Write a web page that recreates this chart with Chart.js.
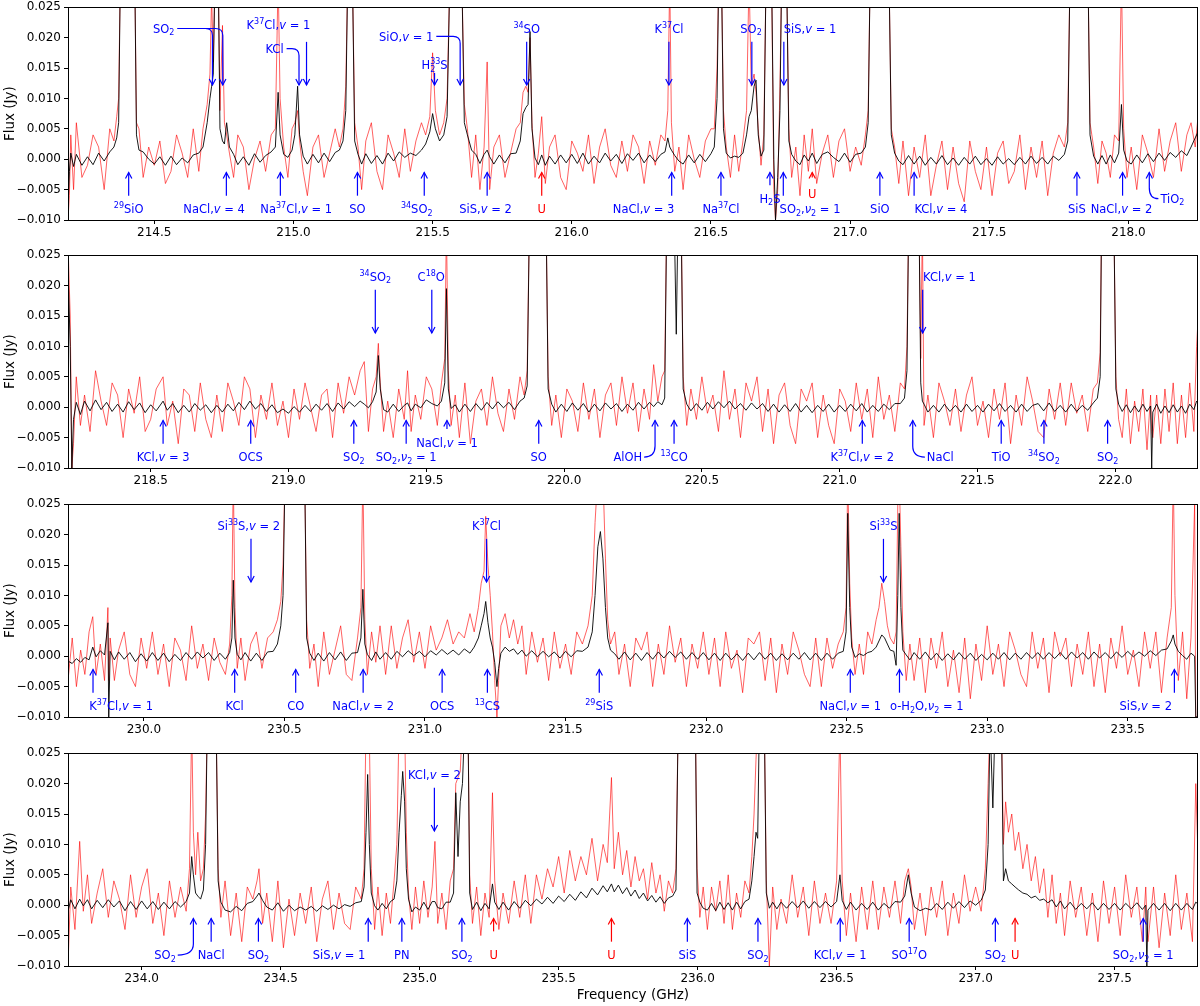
<!DOCTYPE html>
<html>
<head>
<meta charset="utf-8">
<script src="https://cdn.jsdelivr.net/npm/chart.js@4.4.0/dist/chart.umd.min.js"></script>
<style>
html, body { margin: 0; padding: 0; background: #fff; overflow: hidden; }
body { width: 1200px; height: 1006px; position: relative; }
canvas { position: absolute; left: 0; }
</style>
</head>
<body>
<canvas id="panel1" width="1200" height="248" style="top:-3px"></canvas>
<canvas id="panel2" width="1200" height="248" style="top:245px"></canvas>
<canvas id="panel3" width="1200" height="248" style="top:494px"></canvas>
<canvas id="panel4" width="1200" height="263" style="top:743px"></canvas>
<script>
// ---- data (flux in mJy, frequency in GHz) ----

const yTicks = [-10, -5, 0, 5, 10, 15, 20, 25];

// panel 1 : 214.2 - 218.25 GHz
const p1Ticks = [214.5, 215.0, 215.5, 216.0, 216.5, 217.0, 217.5, 218.0];
const p1Freq = [
    214.190, 214.195, 214.200, 214.210, 214.220, 214.240, 214.260, 214.280, 214.300, 214.320,
    214.340, 214.355, 214.365, 214.372, 214.378, 214.430, 214.436, 214.445, 214.460, 214.480,
    214.500, 214.520, 214.540, 214.560, 214.580, 214.600, 214.620, 214.640, 214.660, 214.675,
    214.690, 214.700, 214.706, 214.712, 214.718, 214.730, 214.736, 214.745, 214.752, 214.760,
    214.770, 214.785, 214.800, 214.820, 214.840, 214.860, 214.880, 214.900, 214.920, 214.935,
    214.945, 214.952, 214.965, 214.980, 214.995, 215.005, 215.015, 215.022, 215.035, 215.050,
    215.070, 215.090, 215.110, 215.130, 215.150, 215.165, 215.178, 215.188, 215.195, 215.212,
    215.220, 215.232, 215.245, 215.260, 215.280, 215.300, 215.320, 215.340, 215.360, 215.380,
    215.400, 215.420, 215.440, 215.460, 215.475, 215.490, 215.500, 215.510, 215.525, 215.540,
    215.552, 215.562, 215.605, 215.614, 215.625, 215.640, 215.655, 215.670, 215.685, 215.696,
    215.705, 215.720, 215.740, 215.760, 215.780, 215.800, 215.815, 215.825, 215.835, 215.843,
    215.850, 215.857, 215.868, 215.880, 215.892, 215.905, 215.920, 215.940, 215.960, 215.980,
    216.000, 216.020, 216.040, 216.060, 216.080, 216.100, 216.120, 216.140, 216.160, 216.180,
    216.200, 216.220, 216.240, 216.260, 216.280, 216.300, 216.320, 216.335, 216.345, 216.352,
    216.358, 216.370, 216.385, 216.400, 216.420, 216.440, 216.460, 216.480, 216.500, 216.512,
    216.522, 216.528, 216.538, 216.545, 216.555, 216.570, 216.585, 216.600, 216.615, 216.628,
    216.637, 216.645, 216.655, 216.662, 216.670, 216.680, 216.690, 216.698, 216.718, 216.726,
    216.732, 216.740, 216.748, 216.754, 216.772, 216.780, 216.790, 216.805, 216.820, 216.835,
    216.850, 216.864, 216.880, 216.900, 216.920, 216.940, 216.960, 216.980, 217.000, 217.020,
    217.040, 217.055, 217.065, 217.072, 217.140, 217.148, 217.160, 217.175, 217.190, 217.210,
    217.230, 217.250, 217.270, 217.290, 217.310, 217.330, 217.350, 217.370, 217.390, 217.410,
    217.430, 217.450, 217.470, 217.490, 217.510, 217.530, 217.550, 217.570, 217.590, 217.610,
    217.630, 217.650, 217.670, 217.690, 217.710, 217.730, 217.750, 217.770, 217.782, 217.790,
    217.855, 217.862, 217.875, 217.890, 217.905, 217.920, 217.935, 217.950, 217.965, 217.975,
    217.983, 217.995, 218.010, 218.030, 218.050, 218.070, 218.090, 218.110, 218.130, 218.150,
    218.170, 218.190, 218.210, 218.225, 218.240, 218.250
];
const p1Black = [
    -8, -2, 1, -1.2, 0.8, -1.0, 0.4, -0.9, 1.0, -0.3,
    1.2, 2.0, 3.5, 6, 30, 30, 4, 1.5, 1.2, 0.0,
    -0.8, 0.4, -1.0, 0.5, -0.9, 0.2, -0.6, 0.7, 1.0, 2,
    6, 10, 12, 14, 30, 30, 5, 3, 2.5, 6,
    2, 0.8, -0.9, 0.4, -1.0, 0.9, -0.5, 0.6, 1.2, 2,
    11, 4, 0.8, 0.3, 1.5, 4, 12, 4, 0.5, -0.8,
    0.8, -0.6, 1.0, -0.4, 1.1, 1.5, 3, 8, 30, 30,
    3, 0.8, -0.8, 0.9, -0.7, 0.6, -0.8, 1.0, -0.3, 1.2,
    0.3, 1.0, 0.6, 1.5, 2.5, 4.5, 7.5, 5, 3, 4,
    7, 30, 30, 6, 4, 1.5, 0.8, -0.7, 0.8, 1.5,
    0.4, -0.8, 0.7, -0.6, 0.9, 1.0, 3, 7.5, 8.5, 9,
    21, 5, 0.2, -0.9, 0.7, -1.0, 0.5, -0.8, 0.7, -0.6,
    0.8, -0.7, 1.0, -0.8, 0.5, -0.6, 1.0, -0.3, 0.8, -0.7,
    0.9, -0.2, 1.0, -0.6, 0.7, -0.4, 0.8, 1.2, 3.5, 2,
    1.5, 0.6, -0.3, -0.8, 0.7, -0.6, 0.8, -0.4, 0.9, 2,
    10, 30, 30, 5, 1, 0.2, 0.5, 0.3, 1.0, 4,
    7, 8, 12, 13, 4, 0.5, 1.5, 30, 30, 0,
    -10, -3, 8, 30, 30, 3, 0.8, -0.3, -0.9, 0.7,
    -0.3, 1.0, -0.7, 0.8, 1.2, 0.3, -0.4, 1.0, -0.5, 0.8,
    1.0, 2, 6, 30, 30, 4, 1, -0.3, -0.9, 0.6,
    -0.8, 0.5, -1.0, 0.3, -0.8, 0.6, -0.9, 0.2, -1.0, 0.3,
    -0.8, 0.5, -0.9, 0.1, -1.0, 0.4, -0.8, 0.1, -0.9, 0.3,
    -0.8, 0.5, -0.7, 0.3, -0.8, 0.5, -0.2, 0.8, 3, 30,
    30, 4, 0.5, -0.8, 0.6, -0.8, 0.7, -0.6, 1.0, 9,
    1.5, -0.3, -0.8, 0.7, -0.6, 0.9, -0.4, 1.0, -0.2, 1.1,
    0.3, 1.4, 0.6, 2.0, 3.5, 4.5
];
const p1Red = [
    -10, -6, 4, -5, 6, -3, -1, 4, 2, -5,
    5, 3, 7, 10, 30, 30, 6, 5, -3, 2,
    -1, 3, -4, -2, 4, 1, -3, 5, -2, 5,
    9, 14, 27, 16, 30, 30, 8, 22, 6, 4,
    1, -3, 4, 2, -5, 0, 3, -2, 4, 5,
    30, 10, 2, -3, 5, 6, 8, 3, -2, -6,
    2, 4, -3, 1, 5, 2, 5, 12, 30, 30,
    6, 2, -5, 3, 6, -2, -5, 4, 1, -3,
    5, -2, 3, 6, 4, 7, 17.5, 8, 4, 6,
    10, 30, 30, 9, 5, -3, 4, -5, 2, 16,
    -5, 2, 4, -3, 1, 5, 6, 11, 12, 11,
    20, 6, -3, 1, 7, -4, 2, 4, -3, -5,
    3, 1, -2, 4, -4, 2, 5, -1, -3, 3,
    -2, 4, 2, -4, 3, -1, 4, 3, 8, 30,
    6, -2, 2, -5, 4, 0, -3, 3, 5, 5,
    15, 30, 30, 8, 2, -3, 4, -2, 3, 8,
    30, 12, 14, 11, 5, -1, 4, 30, 30, -5,
    -10, -5, 12, 30, 30, 5, -3, 2, -6, 4,
    -2, 5, -4, 1, 4, -3, 3, 5, -2, 2,
    -1, 4, 8, 30, 30, 5, 2, -4, 3, -6,
    2, -3, 4, -6, -1, 3, -5, 2, -4, -7,
    3, -2, -5, 2, -6, 1, 3, -4, -2, 4,
    -5, 2, -3, 3, -6, 1, 4, 2, 6, 30,
    30, 6, 2, -4, 3, 1, -3, 4, 3, 30,
    5, -3, 2, -5, 4, 1, -3, 5, -2, 3,
    6, -2, 4, 6, 2, 7
];

// panel 2 : 218.2 - 222.3 GHz
const p2Ticks = [218.5, 219.0, 219.5, 220.0, 220.5, 221.0, 221.5, 222.0];
const p2Freq = [
    218.200, 218.208, 218.214, 218.220, 218.230, 218.245, 218.260, 218.280, 218.300, 218.320,
    218.340, 218.360, 218.380, 218.400, 218.420, 218.440, 218.460, 218.480, 218.500, 218.520,
    218.545, 218.560, 218.580, 218.600, 218.620, 218.640, 218.660, 218.680, 218.700, 218.720,
    218.740, 218.760, 218.780, 218.800, 218.820, 218.840, 218.860, 218.880, 218.900, 218.920,
    218.940, 218.960, 218.980, 219.000, 219.020, 219.040, 219.060, 219.080, 219.100, 219.120,
    219.140, 219.160, 219.180, 219.200, 219.220, 219.240, 219.260, 219.275, 219.290, 219.305,
    219.318, 219.326, 219.333, 219.345, 219.360, 219.380, 219.400, 219.420, 219.432, 219.445,
    219.460, 219.480, 219.500, 219.520, 219.540, 219.555, 219.567, 219.573, 219.580, 219.590,
    219.605, 219.620, 219.640, 219.660, 219.680, 219.700, 219.720, 219.740, 219.760, 219.780,
    219.800, 219.820, 219.840, 219.855, 219.866, 219.874, 219.935, 219.942, 219.955, 219.970,
    219.990, 220.010, 220.030, 220.050, 220.070, 220.090, 220.110, 220.130, 220.150, 220.170,
    220.190, 220.210, 220.230, 220.250, 220.270, 220.290, 220.310, 220.325, 220.340, 220.355,
    220.365, 220.372, 220.400, 220.407, 220.413, 220.425, 220.432, 220.445, 220.460, 220.480,
    220.500, 220.520, 220.540, 220.560, 220.580, 220.600, 220.620, 220.640, 220.660, 220.680,
    220.700, 220.720, 220.740, 220.760, 220.780, 220.800, 220.820, 220.840, 220.860, 220.880,
    220.900, 220.920, 220.940, 220.960, 220.980, 221.000, 221.020, 221.040, 221.060, 221.080,
    221.100, 221.120, 221.140, 221.160, 221.180, 221.200, 221.220, 221.235, 221.244, 221.250,
    221.288, 221.294, 221.300, 221.306, 221.320, 221.340, 221.360, 221.380, 221.400, 221.420,
    221.440, 221.460, 221.480, 221.500, 221.520, 221.540, 221.560, 221.580, 221.600, 221.620,
    221.640, 221.660, 221.680, 221.700, 221.720, 221.740, 221.760, 221.780, 221.800, 221.820,
    221.840, 221.860, 221.880, 221.900, 221.920, 221.935, 221.945, 221.950, 221.995, 222.002,
    222.012, 222.025, 222.040, 222.055, 222.070, 222.085, 222.100, 222.115, 222.128, 222.132,
    222.136, 222.150, 222.165, 222.180, 222.195, 222.210, 222.225, 222.240, 222.255, 222.270,
    222.285, 222.295, 222.303
];
const p2Black = [
    23, 10, -10, -2, 0.8, -1.2, 1.0, -0.6, 1.2, -0.4,
    0.8, -0.7, 0.5, -0.8, 0.9, -0.4, 0.7, -0.9, 0.4, -0.6,
    1.0, -0.5, 0.6, -0.9, 0.3, -0.8, 0.6, -0.5, 0.4, -0.9,
    0.3, -0.8, 0.5, -0.6, 0.8, -0.4, 1.0, -0.3, 0.6, -0.7,
    0.4, -0.9, -0.3, -1.0, 0.1, -0.8, 0.3, -0.7, 0.5, -0.5,
    0.6, -0.7, 0.7, -0.3, 0.9, 0.1, 1.0, 0.5, -0.1, 0.9,
    2.5, 8.5, 3, -0.4, -0.8, 0.5, -0.7, 0.3, 0.7, -0.6,
    0.5, -0.1, 1.2, 0.6, 0.2, 1.0, 4, 19.5, 3, -0.2,
    0.4, -0.8, 0.5, -0.7, 0.6, -0.5, 0.8, -0.3, 0.9, -0.1,
    0.8, -0.4, 1.0, 1.5, 3.5, 30, 30, 3, 0.5, -0.8,
    0.5, -0.7, 0.7, -0.5, 0.6, -0.8, 0.5, -0.6, 0.7, -0.3,
    0.6, -0.7, 0.5, -0.5, 0.8, -0.3, 0.8, 0.1, 0.9, 0.4,
    1.5, 30, 30, 12, 30, 30, 3, 0.5, -0.6, 0.6,
    -0.5, 0.8, -0.3, 0.9, -0.1, 1.0, -0.3, 0.6, -0.5, 0.7,
    -0.3, 0.6, -0.7, 0.5, -0.8, 0.4, -0.7, 0.6, -0.8, 0.3,
    -0.9, 0.3, -0.7, 0.5, -0.8, 0.3, -0.7, 0.5, -0.6, 0.6,
    -0.8, 0.3, -0.7, 0.5, -0.4, 0.6, 0.6, 1.5, 6, 30,
    30, 4, 1, 0.5, -0.8, 0.3, -0.8, 0.5, -0.7, 0.3,
    -0.8, 0.5, -0.7, 0.3, -0.8, 0.5, -0.6, 0.6, -0.7, 0.3,
    -0.8, 0.5, -0.7, 0.3, 0.6, -0.6, 0.7, -0.7, 0.3, -0.8,
    0.5, -0.7, 0.3, -0.5, 0.7, 1.5, 5, 30, 30, 3,
    0.5, -0.7, 0.4, -0.9, 0.2, -0.8, 0.5, -0.7, 0.2, -10,
    -0.8, 0.5, -1.0, 0.2, -0.9, 0.4, -0.8, 0.2, -1.0, 0.5,
    -0.4, 1, 0.5
];
const p2Red = [
    27, 15, -10, -6, 5, -3, 2, -4, 6, 1,
    -3, 4, 2, -5, 3, -1, 5, -4, -2, 3,
    5, -3, 1, -6, 3, 2, -4, 4, -2, -5,
    2, -4, 4, 1, -3, 5, 3, -5, 2, -2,
    4, -3, 1, -5, 3, -2, 4, 0, -4, 2,
    3, -5, 4, -1, 5, 2, 6, 7.5, -4, 3,
    5, 10.5, 4, -4, 1, -5, 3, -2, 6, -4,
    2, -2, 5, 3, -3, 4, 8, 30, 6, -3,
    2, -5, 4, -6, 1, 3, -3, 5, -1, -4,
    3, -2, 5, 2, 6, 30, 30, 5, -3, 2,
    -5, 3, 1, -4, 4, -2, 3, -5, 2, 4,
    -3, 5, -1, 4, -4, 3, -2, 7, 1, 5,
    6, 30, 30, 30, 30, 30, 5, -3, 3, -2,
    5, -1, 2, -4, 6, -2, 3, -5, 4, 1,
    5, -4, 3, -6, 2, 4, -3, -6, 3, 1,
    4, -5, 2, -3, -6, 3, 1, -4, 4, -2,
    3, -5, 5, -2, 2, -4, 4, 3, 10, 30,
    30, 8, 30, -3, 2, -5, 4, 1, -3, 3,
    -4, 2, 5, -3, 1, -5, 3, -2, 4, -6,
    2, -3, 5, 1, -4, -5, 3, -2, 4, -3,
    4, -1, 2, -4, 3, 4, 9, 30, 30, 5,
    -2, -5, 3, -6, 1, -4, 3, -7, 2, -4,
    -5, 2, -6, 3, -4, 4, -6, 2, -5, 4,
    -4, 10, 17
];

// panel 3 : 229.73 - 233.75 GHz
const p3Ticks = [230.0, 230.5, 231.0, 231.5, 232.0, 232.5, 233.0, 233.5];
const p3Freq = [
    229.730, 229.745, 229.760, 229.775, 229.790, 229.805, 229.818, 229.830, 229.845, 229.860,
    229.872, 229.875, 229.880, 229.895, 229.910, 229.930, 229.950, 229.970, 229.990, 230.010,
    230.030, 230.050, 230.070, 230.090, 230.110, 230.130, 230.150, 230.170, 230.190, 230.210,
    230.230, 230.250, 230.270, 230.290, 230.305, 230.313, 230.318, 230.324, 230.332, 230.345,
    230.360, 230.380, 230.400, 230.420, 230.440, 230.460, 230.475, 230.487, 230.495, 230.502,
    230.572, 230.579, 230.590, 230.605, 230.620, 230.640, 230.660, 230.680, 230.700, 230.720,
    230.740, 230.760, 230.772, 230.779, 230.786, 230.795, 230.810, 230.825, 230.840, 230.860,
    230.880, 230.900, 230.920, 230.940, 230.960, 230.980, 231.000, 231.020, 231.040, 231.060,
    231.080, 231.100, 231.120, 231.140, 231.160, 231.175, 231.190, 231.200, 231.210, 231.216,
    231.224, 231.232, 231.240, 231.248, 231.256, 231.262, 231.270, 231.285, 231.300, 231.315,
    231.330, 231.345, 231.360, 231.380, 231.400, 231.420, 231.440, 231.460, 231.480, 231.500,
    231.520, 231.540, 231.560, 231.580, 231.595, 231.605, 231.615, 231.624, 231.633, 231.642,
    231.650, 231.660, 231.675, 231.690, 231.710, 231.730, 231.750, 231.770, 231.790, 231.810,
    231.830, 231.850, 231.870, 231.890, 231.910, 231.930, 231.950, 231.970, 231.990, 232.010,
    232.030, 232.050, 232.070, 232.090, 232.110, 232.130, 232.150, 232.170, 232.190, 232.210,
    232.230, 232.250, 232.270, 232.290, 232.310, 232.330, 232.350, 232.370, 232.390, 232.410,
    232.430, 232.450, 232.470, 232.488, 232.498, 232.504, 232.511, 232.518, 232.530, 232.545,
    232.560, 232.575, 232.590, 232.605, 232.615, 232.625, 232.635, 232.645, 232.655, 232.668,
    232.676, 232.682, 232.687, 232.693, 232.700, 232.712, 232.725, 232.740, 232.760, 232.780,
    232.800, 232.820, 232.840, 232.860, 232.880, 232.900, 232.920, 232.940, 232.960, 232.980,
    233.000, 233.020, 233.040, 233.060, 233.080, 233.100, 233.120, 233.140, 233.160, 233.180,
    233.200, 233.220, 233.240, 233.260, 233.280, 233.300, 233.320, 233.340, 233.360, 233.380,
    233.400, 233.420, 233.440, 233.460, 233.480, 233.500, 233.520, 233.540, 233.560, 233.580,
    233.600, 233.620, 233.640, 233.655, 233.662, 233.668, 233.680, 233.695, 233.710, 233.725,
    233.738, 233.742, 233.750
];
const p3Black = [
    -0.8, -1.2, -0.4, -1.0, -0.2, -0.6, 1.5, -0.1, 0.9, 0.2,
    5.5, -10, 0.8, -0.6, 0.7, -0.5, 0.6, -0.9, 0.4, -0.8,
    0.6, -0.7, 0.5, -0.9, 0.3, -0.7, 0.6, -0.5, 0.7, -0.3,
    0.6, -0.7, 0.5, -0.5, 0.6, 3, 12.5, 3, 0.3, -0.6,
    0.6, -0.8, 0.5, -0.7, 0.7, 0.8, 2, 5, 10, 30,
    30, 3, 0.5, -0.7, 0.5, -0.8, 0.6, -0.6, 0.7, -0.7,
    0.5, 0.6, 3, 11, 2, 0.3, -0.7, 0.7, -0.5, 0.6,
    -0.5, 0.8, -0.1, 0.9, 0.1, 0.8, -0.1, 0.9, 0.2, 1.1,
    0.3, 1.0, 0.2, 1.2, 0.5, 1.5, 3, 5, 7, 9,
    5.5, 3, 1.5, -1, -5, -2, 0.5, 1.5, 0.8, 1.2,
    0.3, 1.0, 0.0, 0.9, -0.1, 0.8, -0.1, 0.7, -0.3, 0.8,
    -0.1, 0.9, 0.8, 1.5, 4, 10, 18, 20.5, 16, 8,
    3, 1, 0.4, -0.5, 0.7, -0.6, 0.5, -0.7, 0.6, -0.5,
    0.7, -0.3, 0.8, -0.2, 0.7, -0.5, 0.6, -0.5, 0.6, -0.6,
    0.5, -0.7, 0.5, -0.6, 0.4, -0.7, 0.5, -0.6, 0.6, -0.5,
    0.5, -0.7, 0.4, -0.6, 0.5, -0.5, 0.6, -0.6, 0.5, -0.7,
    0.5, -0.5, 0.5, 0.8, 4, 23.5, 8, 1.5, -0.2, 0.4,
    0.1, 0.6, 0.8, 1.5, 2.5, 3.5, 3, 2, 1.0, 0.8,
    -1.5, 10, 23.5, 8, 1, 0.2, -0.6, 0.6, -0.5, 0.7,
    -0.6, 0.5, -0.7, 0.4, -0.6, 0.6, -0.5, 0.5, -0.7, 0.3,
    -0.6, 0.5, -0.5, 0.6, -0.6, 0.5, -0.5, 0.6, -0.4, 0.6,
    -0.5, 0.6, -0.4, 0.6, -0.5, 0.7, -0.3, 0.6, -0.5, 0.7,
    -0.3, 0.6, -0.4, 0.7, -0.2, 0.8, -0.1, 0.7, 0.0, 0.9,
    0.1, 1.0, 1.2, 2.5, 3.5, 2, 0.8, 0.1, -0.5, 0.5,
    0, -10, -10
];
const p3Red = [
    -4, 3, -5, 1, -3, 4, 6.5, -3, 2, -4,
    8, -4, 3, -4, 1, 4, -3, -5, 3, -2,
    4, -3, 2, -5, 3, 1, -4, 5, -2, 2,
    -4, 3, -1, -3, 2, 10, 30, 8, -2, 3,
    -4, 2, 4, -2, 3, 4, 6, 9, 15, 30,
    30, 6, -2, 2, -5, 4, -3, 1, 5, -3,
    -4, 3, 8, 30, 6, -3, 4, -1, 5, -3,
    5, -2, 3, 6, -1, 4, -2, 5, 1, 3,
    6, 2, 4, 3, 7, 4, 8, 12, 14, 23,
    15, 10, 4, -4, -10, -4, 5, 7, 3, 6,
    2, 5, -3, 4, -1, 3, -4, 4, -2, 2,
    -3, 4, 2, 5, 10, 22, 30, 30, 30, 16,
    6, 2, 4, -3, 2, -5, 3, 1, 4, -5,
    2, -3, 5, -1, 3, -5, 2, -2, 4, -3,
    3, -5, 4, -2, 1, -6, 3, 2, 4, -4,
    3, -6, 2, -3, 4, 1, -3, -5, 3, -5,
    3, -2, 2, 4, 8, 30, 12, 3, -3, 2,
    -3, 4, 2, 6, 8, 12, 9, 5, 3, 2,
    4, 25, 30, 18, 4, -4, 2, -4, 3, -6,
    3, -2, 4, -5, 1, -6, 3, -7, 2, -4,
    5, -3, 2, -5, 4, 1, -3, -5, 4, -2,
    3, -6, 4, 0, 3, -5, 2, -3, 4, -5,
    2, -6, 3, -2, 5, -3, 1, -5, 4, -2,
    4, -6, 3, 8, 30, 10, -4, 4, -7, 3,
    25, -10, -10
];

// panel 4 : 233.74 - 237.8 GHz
const p4Ticks = [234.0, 234.5, 235.0, 235.5, 236.0, 236.5, 237.0, 237.5];
const p4Freq = [
    233.735, 233.745, 233.760, 233.777, 233.790, 233.805, 233.820, 233.840, 233.860, 233.880,
    233.900, 233.920, 233.940, 233.960, 233.980, 234.000, 234.020, 234.040, 234.060, 234.080,
    234.100, 234.120, 234.140, 234.160, 234.172, 234.180, 234.186, 234.194, 234.202, 234.212,
    234.222, 234.230, 234.236, 234.268, 234.275, 234.285, 234.300, 234.320, 234.340, 234.360,
    234.380, 234.400, 234.415, 234.422, 234.435, 234.450, 234.470, 234.490, 234.510, 234.530,
    234.550, 234.570, 234.590, 234.610, 234.630, 234.650, 234.670, 234.690, 234.710, 234.730,
    234.750, 234.770, 234.790, 234.800, 234.807, 234.813, 234.819, 234.826, 234.838, 234.850,
    234.865, 234.880, 234.895, 234.908, 234.918, 234.926, 234.934, 234.939, 234.946, 234.952,
    234.960, 234.972, 234.985, 235.000, 235.015, 235.030, 235.045, 235.055, 235.065, 235.080,
    235.095, 235.110, 235.122, 235.130, 235.138, 235.146, 235.154, 235.162, 235.174, 235.180,
    235.190, 235.205, 235.220, 235.235, 235.250, 235.262, 235.270, 235.285, 235.300, 235.320,
    235.340, 235.360, 235.380, 235.400, 235.420, 235.440, 235.460, 235.480, 235.500, 235.520,
    235.540, 235.560, 235.580, 235.600, 235.620, 235.640, 235.660, 235.675, 235.690, 235.700,
    235.715, 235.730, 235.745, 235.760, 235.775, 235.790, 235.805, 235.820, 235.835, 235.850,
    235.865, 235.880, 235.895, 235.910, 235.922, 235.930, 235.992, 235.998, 236.008, 236.020,
    236.035, 236.050, 236.065, 236.080, 236.095, 236.110, 236.125, 236.140, 236.155, 236.170,
    236.185, 236.195, 236.203, 236.210, 236.216, 236.222, 236.240, 236.247, 236.258, 236.270,
    236.285, 236.300, 236.320, 236.340, 236.360, 236.380, 236.400, 236.420, 236.440, 236.460,
    236.480, 236.500, 236.512, 236.520, 236.535, 236.550, 236.570, 236.590, 236.610, 236.630,
    236.650, 236.670, 236.690, 236.710, 236.730, 236.745, 236.758, 236.768, 236.780, 236.800,
    236.820, 236.840, 236.860, 236.880, 236.900, 236.920, 236.940, 236.960, 236.980, 237.000,
    237.020, 237.035, 237.045, 237.052, 237.062, 237.070, 237.093, 237.100, 237.108, 237.118,
    237.130, 237.142, 237.155, 237.170, 237.185, 237.200, 237.215, 237.230, 237.245, 237.260,
    237.275, 237.290, 237.305, 237.320, 237.340, 237.360, 237.380, 237.400, 237.420, 237.440,
    237.460, 237.480, 237.500, 237.520, 237.540, 237.560, 237.580, 237.600, 237.612, 237.616,
    237.620, 237.640, 237.660, 237.680, 237.700, 237.720, 237.740, 237.760, 237.780, 237.792,
    237.800
];
const p4Black = [
    -1, 0.9, -0.6, 1.0, -0.1, 0.9, -0.6, 0.8, -0.4, 0.9,
    -0.3, 0.7, -0.9, 0.6, -0.7, 0.7, -0.6, 0.6, -0.7, 0.5,
    -0.6, 0.6, -0.3, 0.6, 2, 8, 5, 2, 1.5, 1.0,
    2.5, 10, 30, 30, 4, 0.5, -0.8, -1.1, -0.2, -0.9,
    0.3, 0.6, 1.5, 2, 0.8, -0.3, -0.8, 0.4, -1.0, 0.0,
    -0.9, -0.3, -0.8, -0.2, -1.0, -0.1, -0.7, 0.0, -0.6, 0.1,
    -0.2, 0.4, 0.6, 3, 12, 21.5, 10, 2, -0.1, -0.8,
    0.3, -0.6, 0.6, 1.0, 4, 12, 18, 22, 17, 6,
    1, -1.1, -0.3, -0.8, 0.5, -0.7, 0.6, 0.6, -0.4, -0.6,
    0.5, 0.5, 2, 18.5, 8, 17, 20, 30, 30, 2,
    -0.7, 0.5, -0.9, 0.3, -0.6, 3.5, 0.5, -0.7, 0.5, -0.8,
    0.6, -0.5, 0.8, -0.1, 1.0, 0.2, 1.3, 0.3, 1.5, 0.6,
    1.8, 0.8, 2.2, 1.2, 2.8, 1.7, 3.2, 2.2, 3.5, 2.2,
    3.3, 1.9, 2.9, 1.5, 2.5, 1.1, 2.0, 0.7, 1.6, 0.5,
    1.4, 0.3, 1.2, 1.5, 2.5, 30, 30, 2, 0.5, -0.5,
    -0.8, 0.3, -0.9, 0.5, -0.7, 0.4, -0.8, 0.5, -0.6, 0.6,
    1.0, 4, 8, 12, 11, 30, 30, 2, -0.5, 0.5,
    -0.6, 0.5, -0.5, 0.6, -0.4, 0.7, -0.5, 0.6, -0.4, 0.6,
    -0.3, 0.6, 5, 0.8, -0.7, 0.5, -0.8, 0.3, -0.7, 0.5,
    -0.8, 0.3, -0.5, 0.6, 0.5, 1.5, 5, 2, -0.3, -0.9,
    -0.5, -0.8, 0.3, -0.7, 0.5, -0.5, 0.6, -0.4, 0.7, 0.0,
    0.8, 2.5, 10, 30, 16, 30, 30, 4, 6, 4,
    3.5, 3, 2.5, 2, 1.8, 1.2, 1.5, 0.8, 1.0, 0.4,
    0.9, -0.3, 0.7, -0.6, 0.5, -0.7, 0.3, -0.6, 0.4, -0.8,
    0.3, -0.7, 0.3, -0.8, 0.3, -0.6, 0.4, -0.7, 0.0, -10,
    -0.8, 0.3, -0.8, 0.3, -0.9, 0.3, -0.8, 0.3, -0.7, 0.5,
    0.2
];
const p4Red = [
    -10, 3, -4, 10.5, -1, 5, -3, 2, 6, -2,
    4, 1, -4, 5, -2, 3, 6, -3, 2, -5,
    4, -2, 3, -1, 6, 30, 12, 5, 12, 4,
    6, 15, 30, 30, 6, -2, 4, -5, 2, -6,
    3, 1, 4, 6, -3, 2, -6, 4, -7, 1,
    -5, 2, -3, 3, -6, 1, 4, -4, 2, -3,
    -4, 3, 1, 6, 30, 30, 28, 6, -4, 3,
    -5, 2, -3, 4, 10, 30, 30, 30, 30, 12,
    2, -4, 3, -3, 4, -2, 3, 10.5, -3, 2,
    -4, 4, 6, 20, 21, 22, 30, 30, 30, 5,
    -3, 3, -5, 2, -2, 18.5, 4, -4, 2, -3,
    4, -2, 5, -3, 5, 1, 6, 3, 8, 2,
    9, 4, 8, 5, 11, 4, 10, 7, 21, 6,
    12, 5, 9, 3, 8, 4, 6, 1, 7, 2,
    5, -1, 4, 2, 6, 30, 30, 6, -2, 3,
    -4, 3, -1, 4, -3, 5, -4, 2, -2, 4,
    2, 8, 15, 24, 30, 30, 30, 4, -10, 3,
    -4, 1, -3, 5, -2, 3, -5, 4, -3, 2,
    -3, 4, 30, 4, -5, 2, -6, 3, -4, 4,
    -4, 3, -2, 4, -3, 4, 6, 3, -4, 2,
    -5, 3, -2, 4, -5, 2, -3, 5, -1, 3,
    -1, 6, 20, 30, 30, 30, 30, 10, 17, 12,
    15, 9, 12, 6, 10, 4, 8, 2, 6, -2,
    5, -3, 2, -5, 4, -2, 3, -5, 2, -6,
    4, -3, 3, -5, 5, -2, 3, -6, 3, -2,
    -6, 3, -7, 2, -5, 5, -4, 2, -6, 20,
    8
];

// line identifications: f = line frequency, lf = label frequency (if shifted)
// markup: ^{..} superscript, _{..} subscript, *..* italic
const p1Lower = [
    { f: 214.408, t: '^{29}SiO' },
    { f: 214.759, lf: 214.715, t: 'NaCl,*v* = 4' },
    { f: 214.953, lf: 215.010, t: 'Na^{37}Cl,*v* = 1' },
    { f: 215.230, t: 'SO' },
    { f: 215.470, lf: 215.443, t: '^{34}SO_{2}' },
    { f: 215.696, lf: 215.690, t: 'SiS,*v* = 2' },
    { f: 215.892, t: 'U', c: 'r' },
    { f: 216.359, lf: 216.258, t: 'NaCl,*v* = 3' },
    { f: 216.536, t: 'Na^{37}Cl' },
    { f: 216.712, t: 'H_{2}S', tail: -4.3, ly: -6.5 },
    { f: 216.760, lf: 216.856, t: 'SO_{2},*ν*_{2} = 1' },
    { f: 216.864, t: 'U', c: 'r', tail: -3.0, ly: -5.7 },
    { f: 217.107, t: 'SiO' },
    { f: 217.230, lf: 217.326, t: 'KCl,*v* = 4' },
    { f: 217.815, t: 'SiS' },
    { f: 217.979, lf: 217.975, t: 'NaCl,*v* = 2' },
    { f: 218.075, lf: 218.158, t: 'TiO_{2}', k: 'curve', ly: -6.5 }
];
const p1Upper = [
    { f: [214.709, 214.746], lf: 214.534, t: 'SO_{2}', k: 'bent' },
    { f: 215.047, lf: 214.946, t: 'K^{37}Cl,*v* = 1', ly: 22.1 },
    { f: 215.020, lf: 214.932, t: 'KCl', k: 'bent', ly: 18.2 },
    { f: 215.507, t: 'H_{2}^{33}S', ly: 15.5, tail: 14.2 },
    { f: 215.599, lf: 215.405, t: 'SiO,*v* = 1', k: 'bent', ly: 20.2 },
    { f: 215.838, t: '^{34}SO' },
    { f: 216.349, t: 'K^{37}Cl' },
    { f: 216.647, lf: 216.644, t: 'SO_{2}' },
    { f: 216.762, lf: 216.856, t: 'SiS,*v* = 1' }
];
const p2Lower = [
    { f: 218.545, t: 'KCl,*v* = 3' },
    { f: 218.863, t: 'OCS' },
    { f: 219.237, t: 'SO_{2}' },
    { f: 219.427, t: 'SO_{2},*ν*_{2} = 1' },
    { f: 219.575, t: 'NaCl,*v* = 1', tail: -3.6, ly: -5.8 },
    { f: 219.908, t: 'SO' },
    { f: 220.330, lf: 220.231, t: 'AlOH', k: 'curve' },
    { f: 220.399, t: '^{13}CO' },
    { f: 221.082, t: 'K^{37}Cl,*v* = 2' },
    { f: 221.265, lf: 221.365, t: 'NaCl', k: 'curve' },
    { f: 221.586, t: 'TiO' },
    { f: 221.741, t: '^{34}SO_{2}' },
    { f: 221.972, t: 'SO_{2}' }
];
const p2Upper = [
    { f: 219.315, t: '^{34}SO_{2}' },
    { f: 219.520, lf: 219.518, t: 'C^{18}O' },
    { f: 221.301, lf: 221.398, t: 'KCl,*v* = 1' }
];
const p3Lower = [
    { f: 229.819, lf: 229.919, t: 'K^{37}Cl,*v* = 1' },
    { f: 230.323, t: 'KCl' },
    { f: 230.540, t: 'CO' },
    { f: 230.780, t: 'NaCl,*v* = 2' },
    { f: 231.061, t: 'OCS' },
    { f: 231.222, t: '^{13}CS' },
    { f: 231.620, t: '^{29}SiS' },
    { f: 232.513, t: 'NaCl,*v* = 1' },
    { f: 232.688, lf: 232.785, t: 'o-H_{2}O,*ν*_{2} = 1' },
    { f: 233.666, lf: 233.564, t: 'SiS,*v* = 2' }
];
const p3Upper = [
    { f: 230.381, lf: 230.373, t: 'Si^{33}S,*v* = 2' },
    { f: 231.219, t: 'K^{37}Cl' },
    { f: 232.631, t: 'Si^{33}S' }
];
const p4Lower = [
    { f: 234.186, lf: 234.084, t: 'SO_{2}', k: 'curve' },
    { f: 234.250, t: 'NaCl' },
    { f: 234.420, t: 'SO_{2}' },
    { f: 234.815, lf: 234.710, t: 'SiS,*v* = 1' },
    { f: 234.936, t: 'PN' },
    { f: 235.152, t: 'SO_{2}' },
    { f: 235.266, t: 'U', c: 'r', tail: -4.3 },
    { f: 235.690, t: 'U', c: 'r' },
    { f: 235.963, t: 'SiS' },
    { f: 236.217, t: 'SO_{2}' },
    { f: 236.513, t: 'KCl,*v* = 1' },
    { f: 236.761, t: 'SO^{17}O' },
    { f: 237.071, t: 'SO_{2}' },
    { f: 237.142, t: 'U', c: 'r' },
    { f: 237.603, t: 'SO_{2},*ν*_{2} = 1' }
];
const p4Upper = [
    { f: 235.053, t: 'KCl,*v* = 2' }
];

// ---- drawing ----
const FONT = '"DejaVu Sans", sans-serif';
const BLUE = '#0000ff';
const RED = '#ff0000';
const LABEL_SIZE = 11.5;

Chart.defaults.font.family = FONT;
Chart.defaults.font.size = 12;
Chart.defaults.color = '#000';

const Spectra = {
    panels: [
        { id: 'panel1', freq: p1Freq, black: p1Black, red: p1Red, ticks: p1Ticks, min: 214.19, max: 218.25, lower: p1Lower, upper: p1Upper, axisH: 25 },
        { id: 'panel2', freq: p2Freq, black: p2Black, red: p2Red, ticks: p2Ticks, min: 218.20, max: 222.30, lower: p2Lower, upper: p2Upper, axisH: 25 },
        { id: 'panel3', freq: p3Freq, black: p3Black, red: p3Red, ticks: p3Ticks, min: 229.73, max: 233.75, lower: p3Lower, upper: p3Upper, axisH: 25 },
        { id: 'panel4', freq: p4Freq, black: p4Black, red: p4Red, ticks: p4Ticks, min: 233.735, max: 237.80, lower: p4Lower, upper: p4Upper, axisH: 40, xTitle: 'Frequency (GHz)' }
    ],

    init: function() {
        this.panels.forEach(p => this.makeChart(p));
    },

    // split the little markup into text runs
    parseRich: function(s) {
        const out = [];
        let buf = '', i = 0;
        const flush = () => { if (buf) { out.push({ t: buf, k: 'n' }); buf = ''; } };
        while (i < s.length) {
            const ch = s[i];
            if ((ch === '^' || ch === '_') && s[i + 1] === '{') {
                flush();
                const j = s.indexOf('}', i);
                out.push({ t: s.slice(i + 2, j), k: ch === '^' ? 'sup' : 'sub' });
                i = j + 1;
            } else if (ch === '*') {
                flush();
                const j = s.indexOf('*', i + 1);
                out.push({ t: s.slice(i + 1, j), k: 'it' });
                i = j + 1;
            } else {
                buf += ch;
                i++;
            }
        }
        flush();
        return out;
    },

    fontFor: function(kind, size) {
        if (kind === 'sup' || kind === 'sub') return (size * 0.7).toFixed(1) + 'px ' + FONT;
        if (kind === 'it') return 'italic ' + size + 'px ' + FONT;
        return size + 'px ' + FONT;
    },

    // draw text centred on (xc, yc), returns its width
    drawRich: function(ctx, str, xc, yc, size, color) {
        const segs = this.parseRich(str);
        const items = [];
        let w = 0;
        for (let i = 0; i < segs.length; i++) {
            const s = segs[i];
            const font = this.fontFor(s.k, size);
            ctx.font = font;
            const sw = ctx.measureText(s.t).width;
            const nx = segs[i + 1];
            if (s.k === 'sub' && nx && nx.k === 'sup') {
                const nf = this.fontFor('sup', size);
                ctx.font = nf;
                const nw = ctx.measureText(nx.t).width;
                items.push({ s: s, x: w, font: font });
                items.push({ s: nx, x: w, font: nf });
                w += Math.max(sw, nw);
                i++;
                continue;
            }
            items.push({ s: s, x: w, font: font });
            w += sw;
        }
        const x0 = xc - w / 2;
        const base = yc + size * 0.36;
        ctx.fillStyle = color;
        ctx.textAlign = 'left';
        ctx.textBaseline = 'alphabetic';
        items.forEach(it => {
            let dy = 0;
            if (it.s.k === 'sup') dy = -size * 0.42;
            if (it.s.k === 'sub') dy = size * 0.22;
            ctx.font = it.font;
            ctx.fillText(it.s.t, x0 + it.x, base + dy);
        });
        return w;
    },

    // open arrow head, dir = 1 pointing down, -1 pointing up
    drawHead: function(ctx, x, y, dir) {
        ctx.beginPath();
        ctx.moveTo(x - 3.2, y - dir * 6);
        ctx.lineTo(x, y);
        ctx.lineTo(x + 3.2, y - dir * 6);
        ctx.stroke();
    },

    labelPlugin: function(p) {
        const self = this;
        return {
            id: 'lineLabels',
            afterDatasetsDraw: function(chart) {
                const ctx = chart.ctx;
                const X = v => chart.scales.x.getPixelForValue(v);
                const Y = v => chart.scales.y.getPixelForValue(v);
                ctx.save();
                ctx.lineWidth = 1.2;
                ctx.lineCap = 'butt';

                p.lower.forEach(a => {
                    const col = a.c === 'r' ? RED : BLUE;
                    const x = X(a.f);
                    const lx = X(a.lf !== undefined ? a.lf : a.f);
                    const ly = Y(a.ly !== undefined ? a.ly : -8.2);
                    const tail = Y(a.tail !== undefined ? a.tail : -6.0);
                    const head = Y(a.head !== undefined ? a.head : -2.2);
                    const w = self.drawRich(ctx, a.t, lx, ly, LABEL_SIZE, col);
                    ctx.strokeStyle = col;
                    ctx.beginPath();
                    if (a.k === 'curve') {
                        const sx = lx < x ? lx + w / 2 + 2 : lx - w / 2 - 2;
                        ctx.moveTo(sx, ly);
                        ctx.quadraticCurveTo(x, ly, x, ly - 11);
                        ctx.lineTo(x, head);
                    } else {
                        ctx.moveTo(x, tail);
                        ctx.lineTo(x, head);
                    }
                    ctx.stroke();
                    self.drawHead(ctx, x, head, -1);
                });

                p.upper.forEach(a => {
                    const col = a.c === 'r' ? RED : BLUE;
                    const fs = Array.isArray(a.f) ? a.f : [a.f];
                    const lx = X(a.lf !== undefined ? a.lf : fs[0]);
                    const ly = Y(a.ly !== undefined ? a.ly : 21.5);
                    const tail = Y(a.tail !== undefined ? a.tail : 19.3);
                    const head = Y(a.head !== undefined ? a.head : 12.2);
                    const w = self.drawRich(ctx, a.t, lx, ly, LABEL_SIZE, col);
                    ctx.strokeStyle = col;
                    fs.forEach(f => {
                        const x = X(f);
                        ctx.beginPath();
                        if (a.k === 'bent') {
                            const sx = lx + w / 2 + 3, r = 7;
                            ctx.moveTo(sx, ly);
                            ctx.lineTo(x - r, ly);
                            ctx.quadraticCurveTo(x, ly, x, ly + r);
                            ctx.lineTo(x, head);
                        } else {
                            ctx.moveTo(x, tail);
                            ctx.lineTo(x, head);
                        }
                        ctx.stroke();
                        self.drawHead(ctx, x, head, 1);
                    });
                });
                ctx.restore();
            },
            afterDraw: function(chart) {
                const ctx = chart.ctx;
                const a = chart.chartArea;
                ctx.save();
                // frame
                ctx.strokeStyle = '#000';
                ctx.lineWidth = 1;
                ctx.strokeRect(Math.round(a.left) + 0.5, Math.round(a.top) + 0.5,
                    Math.round(a.right - a.left) - 1, Math.round(a.bottom - a.top));
                // axis titles
                ctx.fillStyle = '#000';
                ctx.font = '13.5px ' + FONT;
                ctx.textAlign = 'center';
                ctx.textBaseline = 'middle';
                ctx.save();
                ctx.translate(10, (a.top + a.bottom) / 2);
                ctx.rotate(-Math.PI / 2);
                ctx.fillText('Flux (Jy)', 0, 0);
                ctx.restore();
                if (p.xTitle) {
                    ctx.fillText(p.xTitle, (a.left + a.right) / 2, a.bottom + 29);
                }
                ctx.restore();
            }
        };
    },

    makeChart: function(p) {
        const n = Math.min(p.freq.length, p.black.length, p.red.length);
        if (n !== p.freq.length || n !== p.black.length || n !== p.red.length) {
            console.error('length mismatch', p.id, p.freq.length, p.black.length, p.red.length);
        }
        const blackPts = [], redPts = [];
        for (let i = 0; i < n; i++) {
            blackPts.push({ x: p.freq[i], y: p.black[i] });
            redPts.push({ x: p.freq[i], y: p.red[i] });
        }
        const tickGrid = {
            display: true,
            drawOnChartArea: false,
            drawTicks: true,
            tickLength: 4,
            tickColor: '#000',
            tickWidth: 1
        };
        new Chart(document.getElementById(p.id), {
            type: 'line',
            data: {
                datasets: [
                    { data: blackPts, borderColor: 'rgba(0,0,0,0.9)', borderWidth: 1, pointRadius: 0, tension: 0 },
                    { data: redPts, borderColor: 'rgba(255,0,0,0.62)', borderWidth: 1, pointRadius: 0, tension: 0 }
                ]
            },
            options: {
                responsive: false,
                maintainAspectRatio: false,
                animation: false,
                events: [],
                layout: { padding: { top: 8, left: 0, right: 2, bottom: 0 } },
                plugins: { legend: { display: false }, tooltip: { enabled: false } },
                scales: {
                    x: {
                        type: 'linear',
                        min: p.min,
                        max: p.max,
                        grid: tickGrid,
                        border: { display: false },
                        afterBuildTicks: s => { s.ticks = p.ticks.map(v => ({ value: v })); },
                        afterFit: s => { s.height = p.axisH; },
                        ticks: {
                            autoSkip: false,
                            maxRotation: 0,
                            padding: 2,
                            font: { size: 12 },
                            callback: v => v.toFixed(1)
                        }
                    },
                    y: {
                        min: -10,
                        max: 25,
                        grid: tickGrid,
                        border: { display: false },
                        afterBuildTicks: s => { s.ticks = yTicks.map(v => ({ value: v })); },
                        afterFit: s => { s.width = 68; },
                        ticks: {
                            padding: 3,
                            font: { size: 12 },
                            callback: v => (v / 1000).toFixed(3).replace('-', '\u2212')
                        }
                    }
                }
            },
            plugins: [this.labelPlugin(p)]
        });
    }
};

Spectra.init();
</script>
</body>
</html>
